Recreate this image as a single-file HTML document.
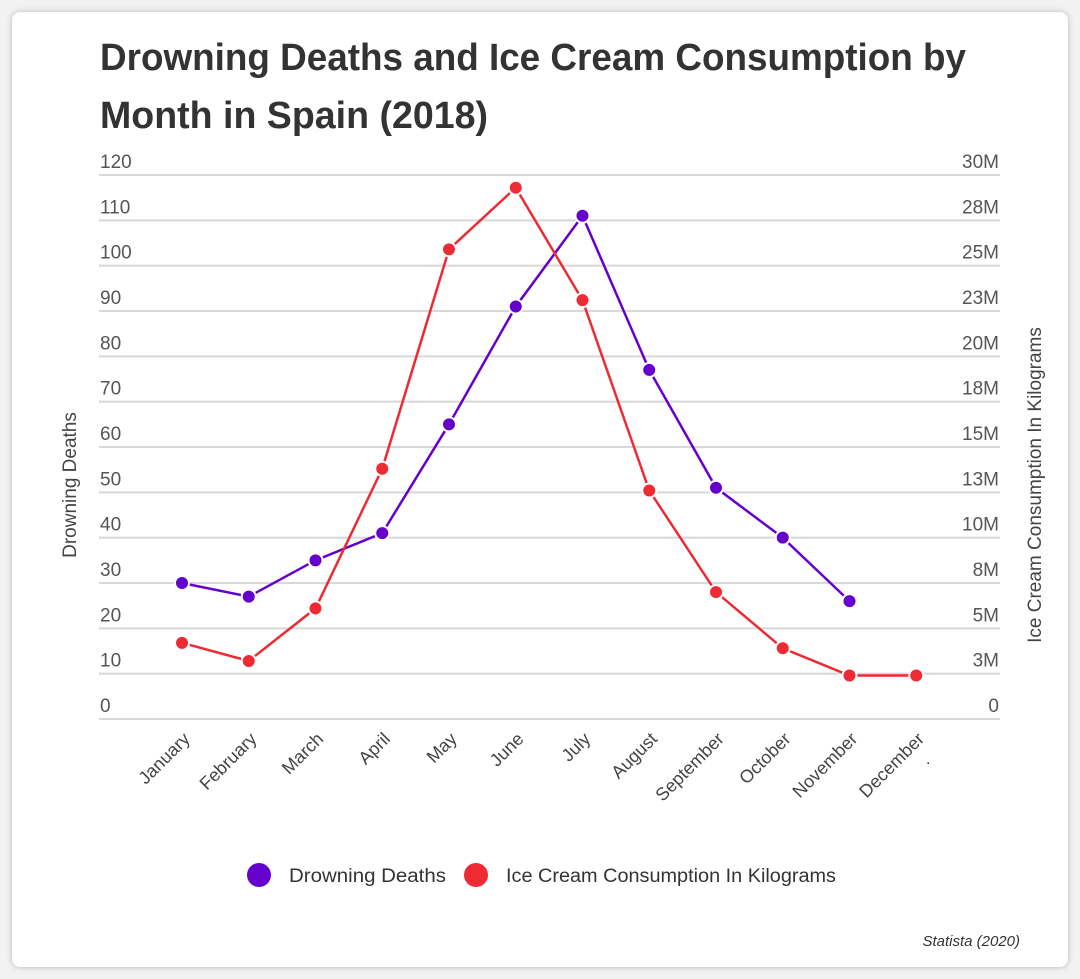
<!DOCTYPE html>
<html><head><meta charset="utf-8"><style>
body{margin:0;background:#f2f2f2;width:1080px;height:979px;overflow:hidden;font-family:"Liberation Sans",sans-serif}
#card{position:absolute;left:12px;top:12px;width:1056px;height:955px;background:#fff;border-radius:8px;box-shadow:0 0 6px rgba(0,0,0,.25)}
svg{position:absolute;left:0;top:0}
</style></head><body>
<div id="card"></div>
<svg id="c" width="1080" height="979">
<text x="100" y="70" font-size="38" font-weight="bold" fill="#333" textLength="866" lengthAdjust="spacingAndGlyphs">Drowning Deaths and Ice Cream Consumption by</text>
<text x="100" y="128" font-size="38" font-weight="bold" fill="#333" textLength="388" lengthAdjust="spacingAndGlyphs">Month in Spain (2018)</text>
<text transform="translate(76,485) rotate(-90)" text-anchor="middle" font-size="19" fill="#444">Drowning Deaths</text>
<text transform="translate(1041,485) rotate(-90)" text-anchor="middle" font-size="19" fill="#444">Ice Cream Consumption In Kilograms</text>
<g>
<circle cx="259" cy="875" r="12" fill="#6600cc"/>
<text x="289" y="882" font-size="19" fill="#333" textLength="157" lengthAdjust="spacingAndGlyphs">Drowning Deaths</text>
<circle cx="476" cy="875" r="12" fill="#ee2a33"/>
<text x="506" y="882" font-size="19" fill="#333" textLength="330" lengthAdjust="spacingAndGlyphs">Ice Cream Consumption In Kilograms</text>
</g>
<text x="1020" y="946" text-anchor="end" font-size="15" font-style="italic" fill="#333">Statista (2020)</text>
<text x="926" y="764" font-size="16" fill="#333">.</text>
</svg>
<script>
const months=["January","February","March","April","May","June","July","August","September","October","November","December"];
const drowning=[30,27,35,41,65,91,111,77,51,40,26,null];
const iceCream=[4.2,3.2,6.1,13.8,25.9,29.3,23.1,12.6,7.0,3.9,2.4,2.4];
const leftTicks=[0,10,20,30,40,50,60,70,80,90,100,110,120];
const rightTicks=["0","3M","5M","8M","10M","13M","15M","18M","20M","23M","25M","28M","30M"];
const svg=document.getElementById('c');const NS="http://www.w3.org/2000/svg";
const y0=719,y1=175,x0=182,dx=66.75;
const yL=v=>y0-(v/120)*(y0-y1);
const yR=v=>y0-(v/30)*(y0-y1);
const xs=i=>x0+i*dx;
function mk(t,a){const e=document.createElementNS(NS,t);for(const k in a)e.setAttribute(k,a[k]);svg.appendChild(e);return e;}
leftTicks.forEach((v,i)=>{
 const g=mk('line',{x1:99,x2:1000,y1:yL(v),y2:yL(v),stroke:'#d8d8d8','stroke-width':2});
 
 
 const t=mk('text',{x:100,y:yL(v)-7,'font-size':19,fill:'#555'});t.textContent=v;
 
 
 const r=mk('text',{x:999,y:yL(v)-7,'font-size':19,fill:'#555','text-anchor':'end'});r.textContent=rightTicks[i];
 
 
});
months.forEach((m,i)=>{
 const t=mk('text',{transform:`translate(${xs(i)+9},${740}) rotate(-45)`,'text-anchor':'end','font-size':18,fill:'#444'});t.textContent=m;
 
 
});
function series(vals,yf,color,name){
 let d='';vals.forEach((v,i)=>{if(v==null)return;d+=(d?'L':'M')+xs(i)+','+yf(v);});
 const p=mk('path',{d:d,fill:'none',stroke:color,'stroke-width':2.5});
 
 
 vals.forEach((v,i)=>{if(v==null)return;
  const c=mk('circle',{cx:xs(i),cy:yf(v),r:7,fill:color,stroke:'#fff','stroke-width':2});
  
  
 });
}
series(drowning,yL,'#6600cc','drowning');
series(iceCream,yR,'#ee2a33','icecream');
</script>
</body></html>
